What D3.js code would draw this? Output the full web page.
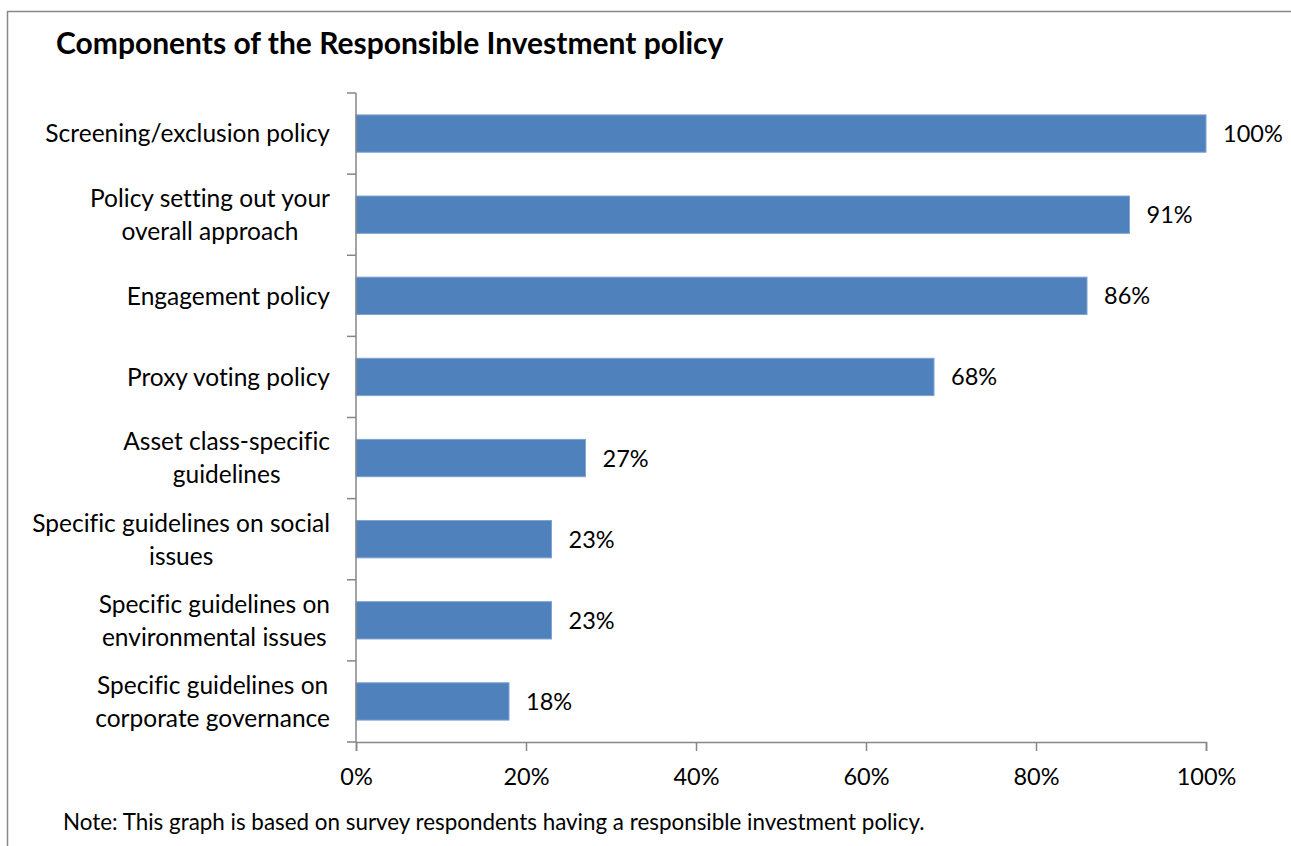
<!DOCTYPE html>
<html>
<head>
<meta charset="utf-8">
<script src="https://cdn.jsdelivr.net/npm/d3@7"></script>
<style>
  body { margin: 0; background: #fff; }
  svg text { font-family: Lato, "Open Sans", sans-serif; fill: #000; font-variant-ligatures: none; }
  .axis path, .axis line { stroke: #868686; }
</style>
</head>
<body>
<div id="chart"></div>
<script>
// chart data
var categories = [
  'Screening/exclusion policy',
  'Policy setting out your\noverall approach',
  'Engagement policy',
  'Proxy voting policy',
  'Asset class-specific\nguidelines',
  'Specific guidelines on social\nissues',
  'Specific guidelines on\nenvironmental issues',
  'Specific guidelines on\ncorporate governance'
];
var values = [100, 91, 86, 68, 27, 23, 23, 18];
var xTicks = [0, 20, 40, 60, 80, 100];
var title = 'Components of the Responsible Investment policy';
var note = 'Note: This graph is based on survey respondents having a responsible investment policy.';

var W = 1291, H = 846;
var plot = { left: 356, right: 1206, top: 93, bottom: 742 };

var svg = d3.select('#chart').append('svg')
  .attr('width', W)
  .attr('height', H);

// outer frame (runs off the right/bottom edge like the original)
svg.append('rect')
  .attr('x', 7.5).attr('y', 11.5)
  .attr('width', W + 20).attr('height', H + 20)
  .attr('fill', 'none')
  .attr('stroke', '#888')
  .attr('stroke-width', 1.5);

svg.append('text')
  .attr('x', 56).attr('y', 54)
  .attr('font-size', 30)
  .attr('font-weight', 'bold')
  .text(title);

var x = d3.scaleLinear().domain([0, 100]).range([plot.left, plot.right]);
var y = d3.scaleBand().domain(categories).range([plot.top, plot.bottom])
  .paddingInner(0.54).paddingOuter(0.27);

// bars
svg.append('g').selectAll('rect').data(values).enter().append('rect')
  .attr('x', x(0))
  .attr('y', function(d, i) { return y(categories[i]); })
  .attr('width', function(d) { return x(d) - x(0); })
  .attr('height', y.bandwidth())
  .attr('fill', '#4F81BD')
  .attr('stroke', '#7FA2D2')
  .attr('stroke-width', 1);

// value labels
svg.append('g').selectAll('text').data(values).enter().append('text')
  .attr('x', function(d) { return x(d) + 17; })
  .attr('y', function(d, i) { return y(categories[i]) + y.bandwidth() / 2; })
  .attr('dy', '0.36em')
  .attr('font-size', 23.5)
  .text(function(d) { return d + '%'; });

// x axis
var xAxis = d3.axisBottom(x).tickValues(xTicks).tickSizeOuter(0).tickSize(9)
  .tickFormat(function(d) { return d + '%'; });
svg.append('g')
  .attr('class', 'axis')
  .attr('transform', 'translate(0,' + plot.bottom + ')')
  .call(xAxis)
  .call(function(g) {
    g.select('.domain').attr('stroke-width', 1.5);
    g.selectAll('.tick line').attr('stroke-width', 1.5);
    g.selectAll('.tick text').attr('font-size', 23.5).attr('fill', '#000')
      .attr('font-family', 'Lato, sans-serif').attr('y', 43).attr('dy', 0);
  });

// y axis: ticks at band boundaries, labels drawn separately
var bounds = categories.map(function(c) { return y(c) - y.step() * y.paddingInner() / 2; });
bounds.push(plot.bottom);
var yAx = svg.append('g').attr('class', 'axis');
yAx.append('line')
  .attr('x1', plot.left).attr('x2', plot.left)
  .attr('y1', plot.top).attr('y2', plot.bottom)
  .attr('stroke-width', 1.5);
yAx.selectAll('line.tk').data(bounds).enter().append('line')
  .attr('class', 'tk')
  .attr('x1', plot.left - 9).attr('x2', plot.left)
  .attr('y1', function(d) { return d; }).attr('y2', function(d) { return d; })
  .attr('stroke-width', 1.5);

var lineH = 33;
svg.append('g').selectAll('text').data(categories).enter().append('text')
  .attr('text-anchor', 'middle')
  .attr('font-size', 24.5)
  .each(function(d) {
    var lines = d.split('\n');
    var t = d3.select(this);
    var cy = y(d) + y.bandwidth() / 2;
    lines.forEach(function(l, i) {
      t.append('tspan')
        .attr('y', cy + (i - (lines.length - 1) / 2) * lineH)
        .attr('dy', '0.36em')
        .text(l);
    });
    // right-align the block, with each line centred within it
    var wMax = 0;
    t.selectAll('tspan').each(function() { wMax = Math.max(wMax, this.getComputedTextLength()); });
    t.selectAll('tspan').attr('x', 330 - wMax / 2);
  });

svg.append('text')
  .attr('x', 63).attr('y', 830)
  .attr('font-size', 22.4)
  .text(note);
</script>
</body>
</html>
